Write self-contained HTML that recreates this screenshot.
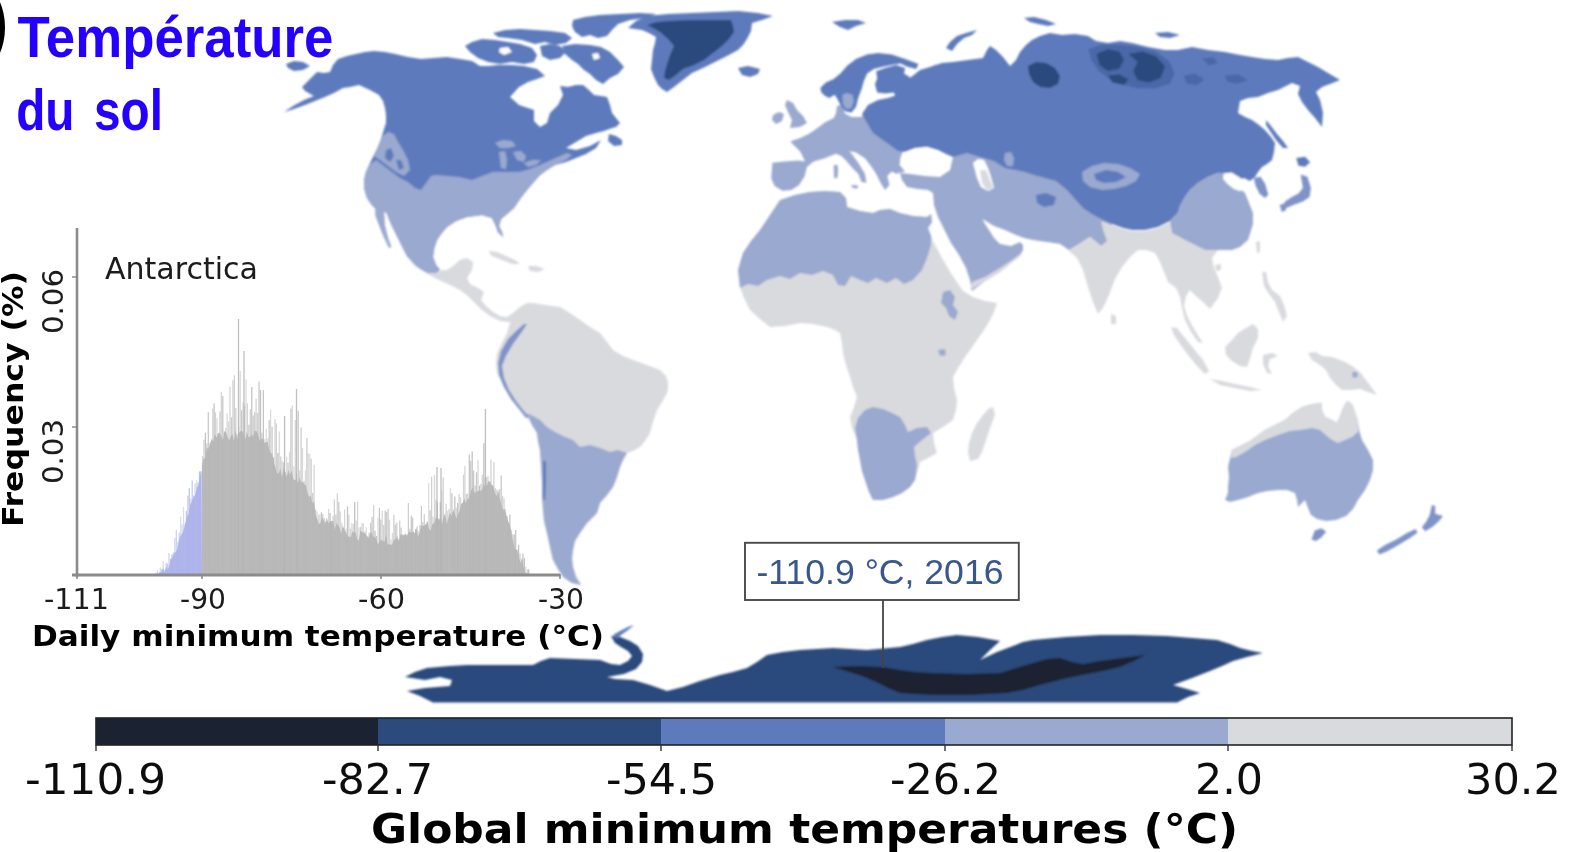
<!DOCTYPE html>
<html lang="fr">
<head>
<meta charset="utf-8">
<title>Température du sol</title>
<style>
html,body{margin:0;padding:0;background:#fff;}
body{width:1569px;height:852px;overflow:hidden;position:relative;font-family:"DejaVu Sans","Liberation Sans",sans-serif;}
svg{position:absolute;left:0;top:0;display:block;}
.dj{font-family:"DejaVu Sans","Liberation Sans",sans-serif;}
.lib{font-family:"Liberation Sans",Arial,sans-serif;}
</style>
</head>
<body>
<svg width="1569" height="852" viewBox="0 0 1569 852">
<defs>
<filter id="blur" x="-2%" y="-2%" width="104%" height="104%"><feGaussianBlur stdDeviation="1.1"/></filter>
<filter id="tblur"><feGaussianBlur stdDeviation="0.6"/></filter>
</defs>
<rect width="1569" height="852" fill="#fff"/>
<!-- world map -->
<g filter="url(#blur)">
<path d="M338,59 L347,56 L356,54 L365,52 L374,51 L385,52 L395,54 L408,57 L421,59 L434,58 L447,57 L460,59 L472,61 L480,66 L489,66 L498,65 L511,65 L524,66 L537,69 L545,76 L537,79 L528,82 L519,87 L510,97 L519,105 L534,110 L534,121 L540,127 L547,123 L550,113 L558,105 L563,95 L560,86 L568,87 L576,85 L583,85 L589,90 L594,95 L601,96 L607,97 L610,105 L612,113 L616,118 L620,123 L616,127 L612,128 L604,131 L596,133 L586,136 L576,142 L566,148 L576,150 L590,146 L601,140 L596,148 L586,154 L576,158 L566,162 L555,165 L547,170 L540,175 L533,183 L527,190 L520,199 L514,208 L507,214 L501,219 L499,226 L502,232 L503,237 L498,232 L495,224 L492,218 L482,215 L467,217 L456,221 L447,227 L441,234 L437,240 L434,249 L433,257 L436,265 L440,270 L430,272 L424.7,271.5 L415.8,265.9 L406.8,255.8 L397.9,238.0 L391.2,224.6 L386.8,213.5 L384,211 L384.5,224.6 L387.9,238.0 L391.2,246.9 L389.0,247.5 L383.4,235.8 L379.0,224.6 L375.6,215.7 L375.6,209.0 L371,204 L367,198 L364,188 L364,180 L366,172 L369,165 L373,157 L377,149 L380,142 L382,136 L384,129 L386,123 L386,115 L385,108 L383,101 L379,95 L370,90 L359,85 L350,87 L343,88 L334,93 L325,97 L315,101 L305,105 L294,109 L284,112 L293,106 L304,100 L314,96 L312,95 L305,91 L302,87 L309,80 L317,72 L324,73 L330,72 L333,65Z" fill="#5d7abc" />
<path d="M286,64 L294,61 L303,62 L310,66 L303,70 L294,71 L288,68Z" fill="#5d7abc" />
<path d="M364,180 L366,172 L369,165 L376,160 L384,166 L392,172 L400,178 L408,182 L415,188 L421,190 L426,183 L431,176 L436,175 L447,176 L459,177 L472,180 L482,176 L493,172 L506,172 L519,172 L530,169 L540,165 L549,161 L558,157 L567,153 L572,155 L566,160 L555,165 L547,170 L540,175 L533,183 L527,190 L520,199 L514,208 L507,214 L501,219 L499,226 L502,232 L503,237 L498,232 L495,224 L492,218 L482,215 L467,217 L456,221 L447,227 L441,234 L437,240 L434,249 L433,257 L436,265 L439,272 L430,275 L424.7,271.5 L415.8,265.9 L406.8,255.8 L397.9,238.0 L391.2,224.6 L386.8,213.5 L384,211 L384.5,224.6 L387.9,238.0 L391.2,246.9 L389.0,247.5 L383.4,235.8 L379.0,224.6 L375.6,215.7 L375.6,209.0 L371,204 L367,198 L364,188Z" fill="#9aa9cf" />
<path d="M383,136 L388,132 L394,134 L398,142 L403,150 L408,160 L410,170 L404,176 L396,172 L388,166 L380,160 L374,156 L378,148Z" fill="#9aa9cf" />
<path d="M386,150 L391,148 L394,156 L390,162 L385,158Z" fill="#5d7abc" />
<path d="M396,160 L401,160 L404,168 L399,170Z" fill="#5d7abc" />
<path d="M495,143 L503,140 L512,141 L516,146 L508,148 L500,148Z" fill="#9aa9cf" />
<path d="M499,152 L505,151 L507,160 L506,169 L501,168 L500,160Z" fill="#9aa9cf" />
<path d="M513,152 L521,151 L526,156 L524,162 L517,160Z" fill="#9aa9cf" />
<path d="M524,163 L532,160 L541,160 L536,165 L528,167Z" fill="#9aa9cf" />
<path d="M412,262 L419,268 L427,273 L437,273 L441,270 L447,270 L453,266 L460,260 L467,258 L473,262 L472,270 L467,278 L470,284 L478,288 L484,292 L481,300 L486,306 L493,312 L500,316 L507,317 L513,313 L517,318 L510,322 L500,321 L490,316 L482,310 L475,303 L468,296 L460,290 L450,285 L441,281 L433,277 L424.7,271.5 L415.8,265.9Z" fill="#d9dade" />
<path d="M488,251 L497,252 L506,256 L515,260 L520,264 L512,264 L502,260 L492,256Z" fill="#d9dade" />
<path d="M528,266 L536,266 L545,269 L538,272 L530,271Z" fill="#d9dade" />
<path d="M465,46 L472,42 L482,39 L495,40 L508,42 L520,44 L532,48 L537,55 L534,62 L524,64 L512,62 L500,64 L488,62 L478,58 L470,52Z" fill="#5d7abc" />
<path d="M493,33 L505,30 L520,29 L535,30 L550,31 L565,33 L572,38 L566,43 L555,45 L545,42 L535,44 L522,40 L508,38 L498,37Z" fill="#5d7abc" />
<path d="M573,20 L585,17 L600,15 L620,14 L640,13 L656,14 L645,18 L630,20 L618,24 L612,30 L607,36 L598,38 L590,35 L582,37 L575,32 L572,26Z" fill="#5d7abc" />
<path d="M540,46 L550,44 L560,46 L566,52 L560,58 L550,60 L542,56Z" fill="#5d7abc" />
<path d="M562,46 L575,44 L590,45 L601,47 L610,52 L618,60 L624,67 L618,74 L610,78 L603,84 L596,80 L590,74 L584,70 L578,64 L572,60 L565,54Z" fill="#5d7abc" />
<path d="M500,48 L508,47 L512,52 L504,55 L499,52Z" fill="#ffffff" />
<path d="M592,54 L598,53 L600,58 L594,60Z" fill="#ffffff" />
<path d="M609,134 L616,136 L622,140 L622,145 L614,146 L608,141Z" fill="#5d7abc" />
<path d="M628,28 L636,21 L647,16 L668,14 L692,13 L715,12 L738,11 L758,13 L773,16 L762,20 L752,23 L751,31 L747,39 L743,45 L738,50 L727,56 L715,62 L703,68 L692,73 L683,80 L674,87 L667,92 L662,89 L658,85 L654,77 L651,69 L652,60 L653,50 L655,43 L656,37 L649,33 L642,30Z" fill="#5d7abc" />
<path d="M647,25 L657,22 L669,21 L690,20 L712,20 L731,20 L733,26 L734,32 L729,39 L722,46 L713,53 L704,60 L694,65 L683,69 L676,75 L669,80 L664,78 L665,71 L667,64 L670,55 L674,46 L668,39 L660,32 L653,28Z" fill="#2c4a7b" />
<path d="M513,313 L520,307 L527,303 L533,303 L545,305 L560,307 L570,313 L580,320 L590,327 L600,333 L607,342 L613,350 L623,356 L633,360 L647,365 L660,370 L666,376 L668,382 L668,388 L667,393 L662,402 L657,410 L653,422 L650,433 L645,441 L640,447 L633,451 L627,453 L623,460 L620,467 L617,477 L613,487 L607,495 L600,503 L597,513 L587,523 L580,533 L575,541 L573,550 L572,558 L573,567 L576,577 L581,585 L572,583 L563,577 L558,569 L553,560 L550,547 L547,533 L544,521 L543,510 L542,496 L542,483 L541,466 L540,450 L538,441 L537,433 L532,425 L527,417 L518,407 L510,397 L503,385 L497,373 L496,363 L497,353 L502,343 L507,333 L510,323Z" fill="#d9dade" />
<path d="M527,413 L533,416 L540,420 L547,427 L555,432 L563,436 L573,440 L580,447 L590,445 L600,448 L610,452 L618,450 L627,453 L623,460 L620,467 L617,477 L613,487 L607,495 L600,503 L597,513 L587,523 L580,533 L575,541 L573,550 L572,558 L573,567 L576,577 L581,585 L572,583 L563,577 L558,569 L553,560 L550,547 L547,533 L544,521 L543,510 L542,496 L542,483 L541,466 L540,450 L538,441 L537,433 L532,425Z" fill="#9aa9cf" />
<path d="M524,324 L527,324 L521,333 L513,344 L506,356 L502,366 L504,378 L509,390 L516,401 L523,410 L529,417 L526,418 L519,409 L511,399 L504,387 L499,375 L498,363 L501,351 L508,339 L516,331Z" fill="#7f93c8" />
<path d="M543,460 L546,462 L546,480 L545,500 L543,500 L543,480Z" fill="#5d7abc" />
<path d="M780,200 L795,195 L810,192 L825,191 L840,192 L846,198 L847,207 L860,211 L873,213 L880,210 L890,209 L900,213 L913,216 L927,217 L931,214 L932,222 L928,228 L934,243 L942,258 L952,275 L963,291 L973,297 L985,301 L997,303 L994,312 L990,320 L984,330 L977,340 L970,350 L963,360 L958,368 L953,377 L954,388 L957,400 L956,410 L953,420 L943,427 L933,433 L934,443 L937,453 L928,458 L920,462 L918,470 L915,480 L910,487 L902,493 L893,497 L883,500 L873,500 L869,492 L866,483 L862,471 L860,460 L858,450 L857,440 L852,428 L850,417 L854,407 L857,397 L853,387 L850,377 L846,365 L843,353 L842,343 L840,333 L833,329 L827,327 L813,324 L800,323 L785,326 L770,327 L760,319 L750,310 L744,298 L740,287 L738,270 L743,253 L751,241 L760,230 L770,215Z" fill="#d9dade" />
<path d="M780,200 L795,195 L810,192 L825,191 L840,192 L846,198 L847,207 L860,211 L873,213 L880,210 L890,209 L900,213 L913,216 L927,217 L931,214 L932,222 L928,228 L931,236 L931,245 L927,258 L922,270 L913,280 L904,284 L896,278 L887,283 L876,278 L868,283 L860,280 L851,276 L845,286 L838,285 L833,275 L823,271 L812,275 L800,273 L790,279 L780,276 L767,280 L758,286 L748,284 L740,288 L738,270 L743,253 L751,241 L760,230 L770,215Z" fill="#9aa9cf" />
<path d="M858,418 L865,410 L873,407 L883,409 L892,413 L900,417 L905,425 L908,432 L917,428 L927,427 L931,433 L922,440 L914,447 L915,456 L917,465 L915,480 L910,487 L902,493 L893,497 L883,500 L873,500 L869,492 L866,483 L862,471 L860,460 L858,450 L857,440 L855,428Z" fill="#9aa9cf" />
<path d="M943,292 L950,290 L955,297 L953,305 L958,312 L955,320 L949,316 L946,308 L941,303Z" fill="#9aa9cf" />
<path d="M938,350 L945,349 L946,355 L940,356Z" fill="#9aa9cf" />
<path d="M993,407 L995,415 L990,428 L986,440 L982,452 L978,459 L970,461 L968,452 L969,443 L972,433 L977,423 L983,415 L988,409Z" fill="#d9dade" />
<path d="M772.3,162.7 L784.6,161.6 L798.0,160.5 L805.1,161.6 L800.2,151.5 L793.5,144.8 L790.2,141.5 L800.2,138.1 L809.2,133.7 L815.8,129.2 L824.8,122.5 L833.7,118.1 L835.9,113.6 L837.0,105.8 L843.7,104.7 L844.8,113.6 L851.5,117.0 L860.5,117.0 L864.9,114.7 L878.3,114.7 L882.8,133.7 L893.9,141.5 L891.7,142.6 L900.6,149.3 L905.1,147.1 L901.1,156.0 L899.5,164.9 L905.1,171.6 L896.1,173.8 L891.7,171.6 L887.2,176.1 L889.5,185.0 L885.0,189.9 L880.5,182.8 L876.1,173.8 L871.6,167.1 L864.9,158.2 L856.0,152.6 L849.3,151.1 L852.0,154.2 L858.2,162.7 L864.9,173.8 L866.5,182.8 L861.6,181.9 L858.2,173.8 L851.5,167.1 L846.0,160.5 L841.5,156.0 L835.9,153.8 L824.8,158.2 L813.6,161.6 L806.9,167.1 L804.7,176.1 L799.1,185.0 L791.3,189.9 L782.4,190.8 L774.6,186.1 L771.2,178.3 L771.9,169.4Z" fill="#9aa9cf" />
<path d="M833.7,164.9 L837.7,164.9 L838.1,171.6 L837.3,178.3 L834.1,177.9Z" fill="#9aa9cf" />
<path d="M851.1,185.0 L858.2,185.4 L857.8,188.6 L852.6,188.1Z" fill="#9aa9cf" />
<path d="M787,100 L793,103 L797,110 L803,116 L807,123 L800,127 L790,128 L792,120 L788,112 L785,105Z" fill="#9aa9cf" />
<path d="M773,115 L779,112 L784,114 L782,121 L776,124 L772,120Z" fill="#9aa9cf" />
<path d="M738,68 L748,66 L760,69 L758,74 L750,77 L742,75Z" fill="#5d7abc" />
<path d="M820.3,88.0 L825.9,82.4 L833.7,79.0 L840.4,73.5 L847.1,65.7 L856,59 L867.1,54.5 L878.3,52.9 L891.7,54.5 L905.1,59.0 L918.5,64.1 L916.2,69.0 L907.3,66.8 L900.6,63.4 L893.9,64.5 L882.8,66.8 L873.8,69.0 L867.1,73.5 L863.8,81.3 L861.6,89.1 L858.2,98.0 L856.0,106.9 L851.5,112.5 L846.0,111.4 L841.5,106.9 L838.1,100.2 L834.8,94.7 L829.2,98.0 L824.8,95.8 L821.4,92.4Z" fill="#5d7abc" />
<path d="M876.1,71.2 L885.0,67.9 L896.1,65.0 L905.1,67.9 L904.0,73.5 L911.8,78.4 L920.7,75.7 L927.4,69.0 L936.3,64.5 L940.8,80.2 L936.3,98.0 L896.1,98.4 L893.9,92.4 L885.0,93.5 L877.2,92.4 L875.0,84.6 L877.2,77.9Z" fill="#5d7abc" />
<path d="M842.2,94.7 L847.1,93.1 L852.6,94.7 L853.8,101.3 L851.5,108.0 L846.6,109.2 L843.1,104.7Z" fill="#9aa9cf" />
<path d="M832,22 L845,20 L858,20 L866,23 L856,26 L848,30 L840,27Z" fill="#5d7abc" />
<path d="M977,30 L966,33 L957,36 L950,42 L946,48 L952,51 L957,44 L964,38 L972,35Z" fill="#5d7abc" />
<path d="M900,173 L910,174 L925,176 L940,177 L950,170 L953,157 L960,150 L1000,150 L1060,160 L1100,190 L1112,215 L1112,244 L1101,246 L1090,237 L1076,246 L1069,250 L1060,244 L1047,242 L1033,240 L1024,238 L1016,235 L1005,230 L994,226 L982.5,219.0 L985,224 L989,230 L994,238 L1000,244 L1011,246 L1020,242 L1023,245 L1023,250 L1020,256 L1012,262 L1000,272 L985,281 L972,291 L970,280 L966,268 L959,255 L951,243 L944,229 L938,217 L934,205 L933,193 L928,190 L918,189 L907,187 L902,180Z" fill="#9aa9cf" />
<path d="M867,123 L862,114 L868,105 L878,100 L888,98 L897,95 L903,86 L910,78 L920,70 L930,67 L942,63 L953,62 L968,60 L983,58 L987,50 L990,46 L996,50 L1003,57 L1010,66 L1016,60 L1020,52 L1026,45 L1032,40 L1040,36 L1050,33 L1062,35 L1075,34 L1088,36 L1096,41 L1108,43 L1120,41 L1132,43 L1148,47 L1165,50 L1178,50 L1192,47 L1208,50 L1225,52 L1240,55 L1252,57 L1265,59 L1278,60 L1288,58 L1298,57 L1308,62 L1318,67 L1328,73 L1340,80 L1330,84 L1322,87 L1316,92 L1320,100 L1323,113 L1322,127 L1315,118 L1308,110 L1302,102 L1298,94 L1300,86 L1292,83 L1284,87 L1278,90 L1268,93 L1258,97 L1248,98 L1240,101 L1238,113 L1245,117 L1252,120 L1259,125 L1265,130 L1271,137 L1275,143 L1274,152 L1272,160 L1267,164 L1262,167 L1258,172 L1255,177 L1250,181 L1244,178 L1238,180 L1232,176 L1225,173 L1218,173 L1208,177 L1198,183 L1190,190 L1185,197 L1180,206 L1178,213 L1170,221 L1158,227 L1145,230 L1132,230 L1123,228 L1112,224 L1101,219 L1092,214 L1083,208 L1075,199 L1067,190 L1056,181 L1045,178 L1034,175 L1025,172 L1016,170 L1005,168 L994,161 L980,157 L967,153 L960,155 L953,157 L946,154 L938,150 L927,147 L915,148 L905,152 L898,151 L890,145 L880,138 L873,133Z" fill="#5d7abc" />
<path d="M1082,172 L1092,166 L1104,163 L1118,164 L1130,168 L1140,174 L1136,181 L1126,186 L1114,189 L1102,190 L1090,187 L1083,181Z" fill="#9aa9cf" />
<path d="M1094,174 L1106,170 L1118,172 L1126,177 L1116,182 L1104,183 L1096,180Z" fill="#5d7abc" />
<path d="M1036,195 L1046,193 L1056,197 L1054,205 L1044,207 L1037,203Z" fill="#5d7abc" />
<path d="M1005,153 L1011,152 L1014,158 L1013,166 L1007,166 L1004,160Z" fill="#9aa9cf" />
<path d="M1028,66 L1036,62 L1046,63 L1055,68 L1060,76 L1058,84 L1050,88 L1040,87 L1033,82 L1029,74Z" fill="#2c4a7b" />
<path d="M1088.3,49.3 L1101.0,44.7 L1119.3,44.7 L1137.7,47.0 L1156.0,51.6 L1169.8,62.0 L1174.4,73.4 L1169.8,83.8 L1156.0,88.3 L1137.7,88.3 L1123.9,84.9 L1110.1,79.2 L1098.7,71.1 L1091.8,60.8Z" fill="#4a68a8" />
<path d="M1096.4,53.9 L1107.8,49.3 L1119.3,51.6 L1123.9,59.7 L1119.3,68.8 L1107.8,71.1 L1099.8,65.4Z" fill="#2c4a7b" />
<path d="M1128.5,53.9 L1142.3,51.6 L1156.0,56.2 L1165.2,66.5 L1160.6,78.0 L1149.2,82.6 L1137.7,80.3 L1133.1,71.1 L1137.7,62.0Z" fill="#2c4a7b" />
<path d="M1107.8,75.7 L1119.3,74.6 L1128.5,79.2 L1123.9,84.9 L1112.4,82.6Z" fill="#2c4a7b" />
<path d="M1183.6,75.7 L1195.0,73.4 L1204.2,79.2 L1197.3,84.9 L1187.0,83.8Z" fill="#4a68a8" />
<path d="M1201.9,58.5 L1213.4,57.4 L1218.0,63.1 L1208.8,65.4Z" fill="#4a68a8" />
<path d="M1224.9,75.7 L1238.6,74.6 L1247.8,80.3 L1236.3,83.8 L1227.2,81.5Z" fill="#4a68a8" />
<path d="M1024,18 L1034,17 L1046,20 L1056,24 L1048,26 L1038,24 L1030,22Z" fill="#5d7abc" />
<path d="M1155,33 L1168,32 L1180,35 L1170,38 L1160,37Z" fill="#5d7abc" />
<path d="M1266,120 L1271,126 L1277,134 L1283,141 L1288,148 L1283,148 L1276,140 L1270,131 L1266,125Z" fill="#5d7abc" />
<path d="M972,282 L985,277 L1000,268 L1012,260 L1020,254 L1023,250 L1020,256 L1012,262 L1000,272 L985,281 L970,290Z" fill="#d9dade" />
<path d="M903,153 L915,149 L927,147 L938,152 L947,160 L950,169 L940,171 L925,170 L913,170 L905,166 L900,160Z" fill="#ffffff" />
<path d="M973,163 L978,159 L984,160 L988,168 L991,177 L994,188 L988,191 L981,187 L977,178 L975,170Z" fill="#ffffff" />
<path d="M980,170 L986,170 L990,180 L993,188 L987,190 L982,183Z" fill="#d9dade" />
<path d="M1056,241 L1069,250 L1076,246 L1090,237 L1101,246 L1107,241 L1103,230 L1101,221 L1112,225 L1123,229 L1132,231 L1145,231 L1158,228 L1170,222 L1172,233 L1185,240 L1205,250 L1218,250 L1212,258 L1214,268 L1218,277 L1222,288 L1218,298 L1210,309 L1204,303 L1197,297 L1190,290 L1186,296 L1184,306 L1187,316 L1193,327 L1199,337 L1203,343 L1198,342 L1191,332 L1185,320 L1182,308 L1180,297 L1176,288 L1168,282 L1164,272 L1160,262 L1155,253 L1147,250 L1138,250 L1130,257 L1122,267 L1115,279 L1109,295 L1103,308 L1098,314 L1093,302 L1088,287 L1083,270 L1077,258 L1068,250Z" fill="#d9dade" />
<path d="M1111,314 L1116,316 L1116,324 L1111,324Z" fill="#d9dade" />
<path d="M1185,197 L1190,190 L1198,183 L1208,177 L1218,173 L1225,173 L1232,180 L1238,187 L1245,193 L1249,203 L1253,213 L1253,224 L1248,240 L1240,247 L1232,250 L1218,250 L1205,250 L1195,245 L1185,240 L1172,233 L1170,221 L1178,213 L1180,206Z" fill="#9aa9cf" />
<path d="M1223.7,173.5 L1231.5,172.4 L1240.5,178.0 L1244.9,185.8 L1240.5,191.3 L1233.8,189.1 L1227.1,183.5 L1223.1,179.1Z" fill="#ffffff" />
<path d="M1253.8,178.0 L1260.5,176.8 L1265.0,183.5 L1268.3,194.7 L1265,198 L1259.4,193.6 L1255.6,185.8Z" fill="#7f93c8" />
<path d="M1300.7,174.6 L1307.4,176.8 L1310.9,188.0 L1309.6,196.9 L1302.9,201.4 L1294.0,204.7 L1286.2,208.1 L1282.8,205.8 L1285.1,201.4 L1291.8,196.9 L1298.5,193.6 L1302.9,188.0 L1301.8,181.3Z" fill="#7f93c8" />
<path d="M1296.2,157.9 L1305.1,156.8 L1310.1,162.3 L1305.1,166.8 L1298.5,165.7Z" fill="#5d7abc" />
<path d="M1279.7,204.7 L1285.1,203.6 L1286.2,210.3 L1281.7,212.1Z" fill="#7f93c8" />
<path d="M1215,265 L1221,264 L1221,270 L1216,271Z" fill="#d9dade" />
<path d="M1256,242 L1260,241 L1260,252 L1257,253Z" fill="#d9dade" />
<path d="M1262,272 L1266,272 L1268,282 L1272,290 L1280,296 L1284,305 L1287,316 L1283,322 L1279,312 L1275,302 L1269,294 L1264,286Z" fill="#d9dade" />
<path d="M1171,327 L1177,328 L1185,338 L1194,349 L1203,360 L1209,371 L1205,374 L1197,366 L1188,355 L1180,344 L1174,335Z" fill="#d9dade" />
<path d="M1225,347 L1232,340 L1238,333 L1246,328 L1253,324 L1258,329 L1258,338 L1253,348 L1250,358 L1247,367 L1240,366 L1232,361 L1226,355Z" fill="#d9dade" />
<path d="M1210,379 L1222,381 L1235,384 L1250,387 L1262,390 L1250,391 L1235,388 L1220,385Z" fill="#d9dade" />
<path d="M1263,355 L1272,353 L1278,356 L1270,359 L1268,366 L1272,374 L1267,373 L1263,364Z" fill="#d9dade" />
<path d="M1308,353 L1316,352 L1322,356 L1332,357 L1343,361 L1352,366 L1360,372 L1366,380 L1372,388 L1377,395 L1368,392 L1360,389 L1350,390 L1342,390 L1336,385 L1330,378 L1326,370 L1320,365 L1312,360Z" fill="#d9dade" />
<path d="M1352,372 L1357,372 L1358,377 L1353,378Z" fill="#9aa9cf" />
<path d="M1232,450 L1240,446 L1250,441 L1265,430 L1275,425 L1285,420 L1293,413 L1302,407 L1312,404 L1322,403 L1322,410 L1325,417 L1332,420 L1337,423 L1340,416 L1343,408 L1347,401 L1352,404 L1355,412 L1358,421 L1359,430 L1362,440 L1368,450 L1373,460 L1373,470 L1370,480 L1365,490 L1358,500 L1353,509 L1346,516 L1336,520 L1326,521 L1317,519 L1311,515 L1308,508 L1305,500 L1300,505 L1298,507 L1297,500 L1295,493 L1287,490 L1278,490 L1268,491 L1258,493 L1248,497 L1238,500 L1230,502 L1225,500 L1228,493 L1228,487 L1229,477 L1228,467Z" fill="#9aa9cf" />
<path d="M1232,450 L1240,446 L1250,441 L1265,430 L1275,425 L1285,420 L1293,413 L1302,407 L1312,404 L1322,403 L1322,410 L1325,417 L1332,420 L1337,423 L1340,416 L1343,408 L1347,401 L1352,404 L1355,412 L1358,421 L1358,432 L1352,437 L1345,440 L1338,443 L1332,440 L1328,437 L1320,430 L1312,428 L1300,430 L1290,431 L1278,435 L1265,440 L1255,445 L1245,452 L1236,457 L1231,458Z" fill="#d9dade" />
<path d="M1311.5,539.4 L1314.8,530.5 L1321.5,528.3 L1326.2,531.6 L1321.5,537.2 L1315.9,541.0Z" fill="#7f93c8" />
<path d="M1376.8,550.6 L1385.1,545.0 L1396.2,539.4 L1407.4,532.7 L1415.8,528.9 L1417.4,532.7 L1409.6,538.3 L1398.4,545.0 L1387.3,551.2 L1379.5,554.4Z" fill="#7f93c8" />
<path d="M1421.9,527.2 L1426.3,521.6 L1429.7,514.9 L1431.9,504.9 L1435.2,506.0 L1435.2,513.8 L1443,516 L1438.6,521.6 L1431.9,527.2 L1425.2,531.2Z" fill="#7f93c8" />
<path d="M405,677 L415,672 L427,668 L450,666 L467,665 L500,665 L533,665 L541,661 L550,658 L575,659 L600,660 L611,664 L620,665 L628,661 L632,656 L628,651 L621,647 L615,643 L611,636 L620,637 L630,641 L638,646 L643,654 L642,662 L636,669 L624,674 L607,677 L615,679 L633,680 L650,685 L667,691 L683,687 L700,681 L710,678 L720,675 L733,672 L747,668 L757,662 L767,655 L783,652 L800,650 L833,648 L867,650 L900,647 L913,644 L927,640 L942,637 L957,635 L978,637 L1000,641 L990,650 L980,660 L997,652 L1013,646 L1023,642 L1033,640 L1066,637 L1100,635 L1133,635 L1167,636 L1192,638 L1217,640 L1230,644 L1240,648 L1252,651 L1263,653 L1247,657 L1233,661 L1222,666 L1210,671 L1192,678 L1173,685 L1187,689 L1200,693 L1188,697 L1177.0,702.5 L1100.0,702.5 L900.0,702.5 L700.0,702.5 L500.0,702.5 L433.0,702.5 L420,696 L407,691 L425,688 L450,686 L452,680 L440,677 L425,680Z" fill="#2c4a7b" />
<path d="M613,635 L620,631 L628,627 L634,625 L628,630 L621,635 L617,639Z" fill="#5d7abc" />
<path d="M833,667 L858,666 L883,667 L900,670 L916,672 L933,673 L966,674 L1000,673 L1016,668 L1033,663 L1047,659 L1060,658 L1072,662 L1083,664 L1100,661 L1122,658 L1145,655 L1134,661 L1120,667 L1103,671 L1087,674 L1063,679 L1040,685 L1023,690 L1007,693 L970,695 L933,695 L915,694 L900,693 L888,688 L876,682 L862,676 L846,671Z" fill="#1b2232" />
</g>
<!-- inset histogram -->
<g filter="url(#tblur)">
<path d="M202,575 L202.0,464.9 L203.6,458.0 L205.2,459.2 L206.8,447.5 L208.4,448.9 L210.0,444.5 L211.6,438.6 L213.2,441.7 L214.8,433.7 L216.4,437.8 L218.0,432.9 L219.6,432.7 L221.2,436.2 L222.8,440.5 L224.4,431.6 L226.0,432.3 L227.6,436.7 L229.2,440.4 L230.8,436.0 L232.4,433.9 L234.0,440.9 L235.6,429.8 L237.2,439.6 L238.8,432.9 L240.4,431.2 L242.0,430.9 L243.6,433.3 L245.2,439.4 L246.8,431.8 L248.4,436.7 L250.0,437.5 L251.6,434.3 L253.2,436.5 L254.8,430.7 L256.4,431.0 L258.0,433.9 L259.6,440.7 L261.2,438.7 L262.8,438.5 L264.4,442.8 L266.0,442.4 L267.6,441.6 L269.2,449.2 L270.8,453.6 L272.4,453.6 L274.0,463.0 L275.6,467.9 L277.2,474.0 L278.8,473.0 L280.4,468.3 L282.0,477.3 L283.6,467.7 L285.2,472.0 L286.8,476.7 L288.4,470.1 L290.0,474.9 L291.6,470.2 L293.2,478.5 L294.8,480.4 L296.4,478.8 L298.0,483.2 L299.6,477.2 L301.2,482.5 L302.8,482.0 L304.4,484.4 L306.0,485.6 L307.6,493.0 L309.2,497.0 L310.8,495.4 L312.4,503.2 L314.0,501.4 L315.6,514.6 L317.2,518.9 L318.8,524.0 L320.4,523.0 L322.0,517.5 L323.6,519.7 L325.2,524.1 L326.8,517.3 L328.4,523.6 L330.0,521.0 L331.6,521.0 L333.2,521.0 L334.8,530.1 L336.4,523.1 L338.0,525.2 L339.6,527.5 L341.2,533.9 L342.8,525.1 L344.4,530.2 L346.0,532.0 L347.6,536.6 L349.2,536.5 L350.8,537.5 L352.4,530.9 L354.0,532.8 L355.6,532.5 L357.2,539.2 L358.8,540.4 L360.4,531.0 L362.0,531.7 L363.6,532.7 L365.2,533.1 L366.8,536.4 L368.4,538.0 L370.0,534.4 L371.6,531.7 L373.2,537.0 L374.8,536.7 L376.4,539.5 L378.0,544.4 L379.6,541.5 L381.2,539.6 L382.8,541.0 L384.4,541.9 L386.0,534.6 L387.6,544.9 L389.2,543.7 L390.8,545.0 L392.4,544.3 L394.0,539.6 L395.6,539.6 L397.2,535.7 L398.8,541.7 L400.4,534.5 L402.0,534.2 L403.6,535.5 L405.2,534.5 L406.8,536.3 L408.4,532.5 L410.0,531.5 L411.6,532.9 L413.2,531.3 L414.8,533.2 L416.4,527.9 L418.0,536.9 L419.6,532.5 L421.2,525.7 L422.8,525.7 L424.4,525.6 L426.0,525.0 L427.6,521.5 L429.2,529.6 L430.8,530.7 L432.4,523.8 L434.0,523.4 L435.6,518.0 L437.2,517.6 L438.8,519.9 L440.4,518.3 L442.0,524.5 L443.6,515.9 L445.2,513.6 L446.8,523.9 L448.4,517.9 L450.0,512.4 L451.6,516.2 L453.2,509.0 L454.8,514.1 L456.4,518.2 L458.0,514.8 L459.6,510.8 L461.2,503.5 L462.8,502.7 L464.4,498.3 L466.0,503.5 L467.6,498.5 L469.2,499.0 L470.8,491.3 L472.4,487.6 L474.0,492.2 L475.6,492.8 L477.2,491.2 L478.8,490.7 L480.4,490.8 L482.0,489.9 L483.6,483.7 L485.2,487.2 L486.8,485.3 L488.4,481.3 L490.0,481.3 L491.6,485.3 L493.2,486.0 L494.8,492.2 L496.4,496.3 L498.0,491.2 L499.6,498.0 L501.2,503.7 L502.8,509.7 L504.4,509.0 L506.0,513.6 L507.6,519.4 L509.2,523.6 L510.8,528.3 L512.4,537.9 L514.0,545.8 L515.6,549.7 L517.2,549.9 L518.8,556.6 L520.4,562.9 L522.0,557.6 L523.6,567.0 L525.2,572.5 L526.8,573.4 L528.4,575.5 L530,575Z" fill="#bebebe" />
<g><path d="M202.5,575V456.2" stroke="#b4b4b4" stroke-opacity="0.52" stroke-width="1.25"/><path d="M203.9,575V439.7" stroke="#b4b4b4" stroke-opacity="0.58" stroke-width="1.25"/><path d="M205.4,575V432.8" stroke="#b4b4b4" stroke-opacity="0.84" stroke-width="1.25"/><path d="M206.8,575V443.3" stroke="#b4b4b4" stroke-opacity="0.61" stroke-width="1.25"/><path d="M208.3,575V412.3" stroke="#b4b4b4" stroke-opacity="0.74" stroke-width="1.25"/><path d="M209.7,575V443.1" stroke="#b4b4b4" stroke-opacity="0.50" stroke-width="1.25"/><path d="M211.2,575V441.3" stroke="#b4b4b4" stroke-opacity="0.81" stroke-width="1.25"/><path d="M212.6,575V408.8" stroke="#b4b4b4" stroke-opacity="0.51" stroke-width="1.25"/><path d="M214.1,575V403.6" stroke="#b4b4b4" stroke-opacity="0.84" stroke-width="1.25"/><path d="M215.5,575V412.3" stroke="#b4b4b4" stroke-opacity="0.59" stroke-width="1.25"/><path d="M217.0,575V418.3" stroke="#b4b4b4" stroke-opacity="0.50" stroke-width="1.25"/><path d="M218.4,575V436.9" stroke="#b4b4b4" stroke-opacity="0.84" stroke-width="1.25"/><path d="M219.9,575V411.6" stroke="#b4b4b4" stroke-opacity="0.66" stroke-width="1.25"/><path d="M221.3,575V391.7" stroke="#b4b4b4" stroke-opacity="0.62" stroke-width="1.25"/><path d="M222.8,575V395.9" stroke="#b4b4b4" stroke-opacity="0.78" stroke-width="1.25"/><path d="M224.2,575V431.1" stroke="#b4b4b4" stroke-opacity="0.55" stroke-width="1.25"/><path d="M225.7,575V427.8" stroke="#b4b4b4" stroke-opacity="0.55" stroke-width="1.25"/><path d="M227.1,575V413.4" stroke="#b4b4b4" stroke-opacity="0.55" stroke-width="1.25"/><path d="M228.6,575V421.4" stroke="#b4b4b4" stroke-opacity="0.50" stroke-width="1.25"/><path d="M230.0,575V386.8" stroke="#b4b4b4" stroke-opacity="0.59" stroke-width="1.25"/><path d="M231.5,575V417.1" stroke="#b4b4b4" stroke-opacity="0.68" stroke-width="1.25"/><path d="M232.9,575V380.2" stroke="#b4b4b4" stroke-opacity="0.62" stroke-width="1.25"/><path d="M234.4,575V375.3" stroke="#b4b4b4" stroke-opacity="0.65" stroke-width="1.25"/><path d="M235.8,575V408.1" stroke="#b4b4b4" stroke-opacity="0.66" stroke-width="1.25"/><path d="M237.3,575V434.2" stroke="#b4b4b4" stroke-opacity="0.63" stroke-width="1.25"/><path d="M238.7,575V427.1" stroke="#b4b4b4" stroke-opacity="0.45" stroke-width="1.25"/><path d="M240.2,575V371.1" stroke="#b4b4b4" stroke-opacity="0.52" stroke-width="1.25"/><path d="M241.6,575V410.2" stroke="#b4b4b4" stroke-opacity="0.74" stroke-width="1.25"/><path d="M243.1,575V402.3" stroke="#b4b4b4" stroke-opacity="0.58" stroke-width="1.25"/><path d="M244.5,575V405.6" stroke="#b4b4b4" stroke-opacity="0.67" stroke-width="1.25"/><path d="M246.0,575V379.6" stroke="#b4b4b4" stroke-opacity="0.49" stroke-width="1.25"/><path d="M247.4,575V403.3" stroke="#b4b4b4" stroke-opacity="0.55" stroke-width="1.25"/><path d="M248.9,575V424.8" stroke="#b4b4b4" stroke-opacity="0.76" stroke-width="1.25"/><path d="M250.3,575V409.2" stroke="#b4b4b4" stroke-opacity="0.67" stroke-width="1.25"/><path d="M251.8,575V387.1" stroke="#b4b4b4" stroke-opacity="0.81" stroke-width="1.25"/><path d="M253.2,575V415.5" stroke="#b4b4b4" stroke-opacity="0.70" stroke-width="1.25"/><path d="M254.7,575V412.0" stroke="#b4b4b4" stroke-opacity="0.65" stroke-width="1.25"/><path d="M256.1,575V398.8" stroke="#b4b4b4" stroke-opacity="0.63" stroke-width="1.25"/><path d="M257.6,575V412.9" stroke="#b4b4b4" stroke-opacity="0.64" stroke-width="1.25"/><path d="M259.0,575V381.4" stroke="#b4b4b4" stroke-opacity="0.73" stroke-width="1.25"/><path d="M260.5,575V390.1" stroke="#b4b4b4" stroke-opacity="0.83" stroke-width="1.25"/><path d="M261.9,575V432.5" stroke="#b4b4b4" stroke-opacity="0.67" stroke-width="1.25"/><path d="M263.4,575V390.1" stroke="#b4b4b4" stroke-opacity="0.79" stroke-width="1.25"/><path d="M264.8,575V438.9" stroke="#b4b4b4" stroke-opacity="0.50" stroke-width="1.25"/><path d="M266.3,575V428.5" stroke="#b4b4b4" stroke-opacity="0.48" stroke-width="1.25"/><path d="M267.7,575V438.2" stroke="#b4b4b4" stroke-opacity="0.48" stroke-width="1.25"/><path d="M269.2,575V420.2" stroke="#b4b4b4" stroke-opacity="0.76" stroke-width="1.25"/><path d="M270.6,575V409.7" stroke="#b4b4b4" stroke-opacity="0.51" stroke-width="1.25"/><path d="M272.1,575V426.7" stroke="#b4b4b4" stroke-opacity="0.71" stroke-width="1.25"/><path d="M273.5,575V457.5" stroke="#b4b4b4" stroke-opacity="0.80" stroke-width="1.25"/><path d="M275.0,575V419.1" stroke="#b4b4b4" stroke-opacity="0.54" stroke-width="1.25"/><path d="M276.4,575V423.4" stroke="#b4b4b4" stroke-opacity="0.61" stroke-width="1.25"/><path d="M277.9,575V453.1" stroke="#b4b4b4" stroke-opacity="0.85" stroke-width="1.25"/><path d="M279.3,575V431.4" stroke="#b4b4b4" stroke-opacity="0.51" stroke-width="1.25"/><path d="M280.8,575V456.4" stroke="#b4b4b4" stroke-opacity="0.66" stroke-width="1.25"/><path d="M282.2,575V461.2" stroke="#b4b4b4" stroke-opacity="0.53" stroke-width="1.25"/><path d="M283.7,575V462.5" stroke="#b4b4b4" stroke-opacity="0.74" stroke-width="1.25"/><path d="M285.1,575V471.8" stroke="#b4b4b4" stroke-opacity="0.67" stroke-width="1.25"/><path d="M286.6,575V456.7" stroke="#b4b4b4" stroke-opacity="0.46" stroke-width="1.25"/><path d="M288.0,575V462.7" stroke="#b4b4b4" stroke-opacity="0.70" stroke-width="1.25"/><path d="M289.5,575V452.1" stroke="#b4b4b4" stroke-opacity="0.48" stroke-width="1.25"/><path d="M290.9,575V408.4" stroke="#b4b4b4" stroke-opacity="0.77" stroke-width="1.25"/><path d="M292.4,575V405.2" stroke="#b4b4b4" stroke-opacity="0.49" stroke-width="1.25"/><path d="M293.8,575V466.3" stroke="#b4b4b4" stroke-opacity="0.47" stroke-width="1.25"/><path d="M295.3,575V419.9" stroke="#b4b4b4" stroke-opacity="0.56" stroke-width="1.25"/><path d="M296.7,575V473.8" stroke="#b4b4b4" stroke-opacity="0.62" stroke-width="1.25"/><path d="M298.2,575V410.8" stroke="#b4b4b4" stroke-opacity="0.78" stroke-width="1.25"/><path d="M299.6,575V470.6" stroke="#b4b4b4" stroke-opacity="0.51" stroke-width="1.25"/><path d="M301.1,575V427.6" stroke="#b4b4b4" stroke-opacity="0.68" stroke-width="1.25"/><path d="M302.5,575V447.9" stroke="#b4b4b4" stroke-opacity="0.49" stroke-width="1.25"/><path d="M304.0,575V481.1" stroke="#b4b4b4" stroke-opacity="0.73" stroke-width="1.25"/><path d="M305.4,575V470.3" stroke="#b4b4b4" stroke-opacity="0.48" stroke-width="1.25"/><path d="M306.9,575V438.0" stroke="#b4b4b4" stroke-opacity="0.70" stroke-width="1.25"/><path d="M308.3,575V453.2" stroke="#b4b4b4" stroke-opacity="0.48" stroke-width="1.25"/><path d="M309.8,575V454.0" stroke="#b4b4b4" stroke-opacity="0.48" stroke-width="1.25"/><path d="M311.2,575V458.7" stroke="#b4b4b4" stroke-opacity="0.63" stroke-width="1.25"/><path d="M312.7,575V492.9" stroke="#b4b4b4" stroke-opacity="0.67" stroke-width="1.25"/><path d="M314.1,575V464.8" stroke="#b4b4b4" stroke-opacity="0.56" stroke-width="1.25"/><path d="M315.6,575V509.4" stroke="#b4b4b4" stroke-opacity="0.66" stroke-width="1.25"/><path d="M317.0,575V511.4" stroke="#b4b4b4" stroke-opacity="0.49" stroke-width="1.25"/><path d="M318.5,575V514.5" stroke="#b4b4b4" stroke-opacity="0.47" stroke-width="1.25"/><path d="M319.9,575V514.4" stroke="#b4b4b4" stroke-opacity="0.57" stroke-width="1.25"/><path d="M321.4,575V512.3" stroke="#b4b4b4" stroke-opacity="0.75" stroke-width="1.25"/><path d="M322.8,575V513.9" stroke="#b4b4b4" stroke-opacity="0.65" stroke-width="1.25"/><path d="M324.3,575V517.9" stroke="#b4b4b4" stroke-opacity="0.59" stroke-width="1.25"/><path d="M325.7,575V521.3" stroke="#b4b4b4" stroke-opacity="0.55" stroke-width="1.25"/><path d="M327.2,575V522.2" stroke="#b4b4b4" stroke-opacity="0.74" stroke-width="1.25"/><path d="M328.6,575V508.9" stroke="#b4b4b4" stroke-opacity="0.53" stroke-width="1.25"/><path d="M330.1,575V513.1" stroke="#b4b4b4" stroke-opacity="0.82" stroke-width="1.25"/><path d="M331.5,575V523.6" stroke="#b4b4b4" stroke-opacity="0.78" stroke-width="1.25"/><path d="M333.0,575V516.0" stroke="#b4b4b4" stroke-opacity="0.65" stroke-width="1.25"/><path d="M334.4,575V499.5" stroke="#b4b4b4" stroke-opacity="0.61" stroke-width="1.25"/><path d="M335.9,575V514.6" stroke="#b4b4b4" stroke-opacity="0.73" stroke-width="1.25"/><path d="M337.3,575V493.4" stroke="#b4b4b4" stroke-opacity="0.59" stroke-width="1.25"/><path d="M338.8,575V502.0" stroke="#b4b4b4" stroke-opacity="0.73" stroke-width="1.25"/><path d="M340.2,575V511.6" stroke="#b4b4b4" stroke-opacity="0.61" stroke-width="1.25"/><path d="M341.7,575V522.5" stroke="#b4b4b4" stroke-opacity="0.47" stroke-width="1.25"/><path d="M343.1,575V528.0" stroke="#b4b4b4" stroke-opacity="0.48" stroke-width="1.25"/><path d="M344.6,575V509.4" stroke="#b4b4b4" stroke-opacity="0.55" stroke-width="1.25"/><path d="M346.0,575V528.6" stroke="#b4b4b4" stroke-opacity="0.48" stroke-width="1.25"/><path d="M347.5,575V506.4" stroke="#b4b4b4" stroke-opacity="0.80" stroke-width="1.25"/><path d="M348.9,575V514.6" stroke="#b4b4b4" stroke-opacity="0.56" stroke-width="1.25"/><path d="M350.4,575V528.8" stroke="#b4b4b4" stroke-opacity="0.57" stroke-width="1.25"/><path d="M351.8,575V523.1" stroke="#b4b4b4" stroke-opacity="0.51" stroke-width="1.25"/><path d="M353.3,575V523.7" stroke="#b4b4b4" stroke-opacity="0.56" stroke-width="1.25"/><path d="M354.7,575V502.0" stroke="#b4b4b4" stroke-opacity="0.84" stroke-width="1.25"/><path d="M356.2,575V520.6" stroke="#b4b4b4" stroke-opacity="0.55" stroke-width="1.25"/><path d="M357.6,575V501.8" stroke="#b4b4b4" stroke-opacity="0.57" stroke-width="1.25"/><path d="M359.1,575V527.4" stroke="#b4b4b4" stroke-opacity="0.45" stroke-width="1.25"/><path d="M360.5,575V526.9" stroke="#b4b4b4" stroke-opacity="0.64" stroke-width="1.25"/><path d="M362.0,575V523.1" stroke="#b4b4b4" stroke-opacity="0.53" stroke-width="1.25"/><path d="M363.4,575V523.2" stroke="#b4b4b4" stroke-opacity="0.45" stroke-width="1.25"/><path d="M364.9,575V531.0" stroke="#b4b4b4" stroke-opacity="0.49" stroke-width="1.25"/><path d="M366.3,575V527.3" stroke="#b4b4b4" stroke-opacity="0.47" stroke-width="1.25"/><path d="M367.8,575V535.7" stroke="#b4b4b4" stroke-opacity="0.57" stroke-width="1.25"/><path d="M369.2,575V532.5" stroke="#b4b4b4" stroke-opacity="0.68" stroke-width="1.25"/><path d="M370.7,575V522.8" stroke="#b4b4b4" stroke-opacity="0.75" stroke-width="1.25"/><path d="M372.1,575V517.1" stroke="#b4b4b4" stroke-opacity="0.74" stroke-width="1.25"/><path d="M373.6,575V505.3" stroke="#b4b4b4" stroke-opacity="0.61" stroke-width="1.25"/><path d="M375.0,575V530.8" stroke="#b4b4b4" stroke-opacity="0.84" stroke-width="1.25"/><path d="M376.5,575V535.8" stroke="#b4b4b4" stroke-opacity="0.74" stroke-width="1.25"/><path d="M377.9,575V517.8" stroke="#b4b4b4" stroke-opacity="0.47" stroke-width="1.25"/><path d="M379.4,575V507.9" stroke="#b4b4b4" stroke-opacity="0.81" stroke-width="1.25"/><path d="M380.8,575V519.5" stroke="#b4b4b4" stroke-opacity="0.74" stroke-width="1.25"/><path d="M382.3,575V510.6" stroke="#b4b4b4" stroke-opacity="0.51" stroke-width="1.25"/><path d="M383.7,575V525.1" stroke="#b4b4b4" stroke-opacity="0.65" stroke-width="1.25"/><path d="M385.2,575V510.7" stroke="#b4b4b4" stroke-opacity="0.77" stroke-width="1.25"/><path d="M386.6,575V511.8" stroke="#b4b4b4" stroke-opacity="0.68" stroke-width="1.25"/><path d="M388.1,575V509.0" stroke="#b4b4b4" stroke-opacity="0.72" stroke-width="1.25"/><path d="M389.5,575V519.6" stroke="#b4b4b4" stroke-opacity="0.54" stroke-width="1.25"/><path d="M391.0,575V539.4" stroke="#b4b4b4" stroke-opacity="0.50" stroke-width="1.25"/><path d="M392.4,575V533.0" stroke="#b4b4b4" stroke-opacity="0.49" stroke-width="1.25"/><path d="M393.9,575V514.7" stroke="#b4b4b4" stroke-opacity="0.67" stroke-width="1.25"/><path d="M395.3,575V524.4" stroke="#b4b4b4" stroke-opacity="0.70" stroke-width="1.25"/><path d="M396.8,575V522.6" stroke="#b4b4b4" stroke-opacity="0.65" stroke-width="1.25"/><path d="M398.2,575V539.2" stroke="#b4b4b4" stroke-opacity="0.77" stroke-width="1.25"/><path d="M399.7,575V520.6" stroke="#b4b4b4" stroke-opacity="0.65" stroke-width="1.25"/><path d="M401.1,575V527.6" stroke="#b4b4b4" stroke-opacity="0.71" stroke-width="1.25"/><path d="M402.6,575V537.8" stroke="#b4b4b4" stroke-opacity="0.74" stroke-width="1.25"/><path d="M404.0,575V534.3" stroke="#b4b4b4" stroke-opacity="0.48" stroke-width="1.25"/><path d="M405.5,575V533.6" stroke="#b4b4b4" stroke-opacity="0.74" stroke-width="1.25"/><path d="M406.9,575V534.5" stroke="#b4b4b4" stroke-opacity="0.75" stroke-width="1.25"/><path d="M408.4,575V503.0" stroke="#b4b4b4" stroke-opacity="0.65" stroke-width="1.25"/><path d="M409.8,575V528.7" stroke="#b4b4b4" stroke-opacity="0.64" stroke-width="1.25"/><path d="M411.3,575V515.8" stroke="#b4b4b4" stroke-opacity="0.76" stroke-width="1.25"/><path d="M412.7,575V517.8" stroke="#b4b4b4" stroke-opacity="0.71" stroke-width="1.25"/><path d="M414.2,575V533.7" stroke="#b4b4b4" stroke-opacity="0.51" stroke-width="1.25"/><path d="M415.6,575V528.9" stroke="#b4b4b4" stroke-opacity="0.75" stroke-width="1.25"/><path d="M417.1,575V526.2" stroke="#b4b4b4" stroke-opacity="0.68" stroke-width="1.25"/><path d="M418.5,575V530.9" stroke="#b4b4b4" stroke-opacity="0.47" stroke-width="1.25"/><path d="M420.0,575V525.0" stroke="#b4b4b4" stroke-opacity="0.72" stroke-width="1.25"/><path d="M421.4,575V506.1" stroke="#b4b4b4" stroke-opacity="0.72" stroke-width="1.25"/><path d="M422.9,575V521.9" stroke="#b4b4b4" stroke-opacity="0.66" stroke-width="1.25"/><path d="M424.3,575V514.1" stroke="#b4b4b4" stroke-opacity="0.64" stroke-width="1.25"/><path d="M425.8,575V524.3" stroke="#b4b4b4" stroke-opacity="0.81" stroke-width="1.25"/><path d="M427.2,575V521.7" stroke="#b4b4b4" stroke-opacity="0.84" stroke-width="1.25"/><path d="M428.7,575V482.9" stroke="#b4b4b4" stroke-opacity="0.46" stroke-width="1.25"/><path d="M430.1,575V510.3" stroke="#b4b4b4" stroke-opacity="0.78" stroke-width="1.25"/><path d="M431.6,575V476.8" stroke="#b4b4b4" stroke-opacity="0.63" stroke-width="1.25"/><path d="M433.0,575V516.8" stroke="#b4b4b4" stroke-opacity="0.53" stroke-width="1.25"/><path d="M434.5,575V474.8" stroke="#b4b4b4" stroke-opacity="0.53" stroke-width="1.25"/><path d="M435.9,575V499.4" stroke="#b4b4b4" stroke-opacity="0.51" stroke-width="1.25"/><path d="M437.4,575V502.0" stroke="#b4b4b4" stroke-opacity="0.83" stroke-width="1.25"/><path d="M438.8,575V518.6" stroke="#b4b4b4" stroke-opacity="0.78" stroke-width="1.25"/><path d="M440.3,575V502.1" stroke="#b4b4b4" stroke-opacity="0.80" stroke-width="1.25"/><path d="M441.7,575V490.2" stroke="#b4b4b4" stroke-opacity="0.54" stroke-width="1.25"/><path d="M443.2,575V477.6" stroke="#b4b4b4" stroke-opacity="0.64" stroke-width="1.25"/><path d="M444.6,575V518.4" stroke="#b4b4b4" stroke-opacity="0.45" stroke-width="1.25"/><path d="M446.1,575V503.7" stroke="#b4b4b4" stroke-opacity="0.63" stroke-width="1.25"/><path d="M447.5,575V510.9" stroke="#b4b4b4" stroke-opacity="0.51" stroke-width="1.25"/><path d="M449.0,575V509.1" stroke="#b4b4b4" stroke-opacity="0.58" stroke-width="1.25"/><path d="M450.4,575V487.9" stroke="#b4b4b4" stroke-opacity="0.45" stroke-width="1.25"/><path d="M451.9,575V493.3" stroke="#b4b4b4" stroke-opacity="0.79" stroke-width="1.25"/><path d="M453.3,575V512.6" stroke="#b4b4b4" stroke-opacity="0.82" stroke-width="1.25"/><path d="M454.8,575V496.4" stroke="#b4b4b4" stroke-opacity="0.81" stroke-width="1.25"/><path d="M456.2,575V507.6" stroke="#b4b4b4" stroke-opacity="0.60" stroke-width="1.25"/><path d="M457.7,575V502.9" stroke="#b4b4b4" stroke-opacity="0.85" stroke-width="1.25"/><path d="M459.1,575V494.0" stroke="#b4b4b4" stroke-opacity="0.59" stroke-width="1.25"/><path d="M460.6,575V497.3" stroke="#b4b4b4" stroke-opacity="0.56" stroke-width="1.25"/><path d="M462.0,575V504.0" stroke="#b4b4b4" stroke-opacity="0.49" stroke-width="1.25"/><path d="M463.5,575V474.5" stroke="#b4b4b4" stroke-opacity="0.56" stroke-width="1.25"/><path d="M464.9,575V465.7" stroke="#b4b4b4" stroke-opacity="0.55" stroke-width="1.25"/><path d="M466.4,575V493.9" stroke="#b4b4b4" stroke-opacity="0.65" stroke-width="1.25"/><path d="M467.8,575V493.8" stroke="#b4b4b4" stroke-opacity="0.60" stroke-width="1.25"/><path d="M469.3,575V454.6" stroke="#b4b4b4" stroke-opacity="0.80" stroke-width="1.25"/><path d="M470.7,575V460.9" stroke="#b4b4b4" stroke-opacity="0.70" stroke-width="1.25"/><path d="M472.2,575V451.6" stroke="#b4b4b4" stroke-opacity="0.83" stroke-width="1.25"/><path d="M473.6,575V470.6" stroke="#b4b4b4" stroke-opacity="0.74" stroke-width="1.25"/><path d="M475.1,575V485.6" stroke="#b4b4b4" stroke-opacity="0.74" stroke-width="1.25"/><path d="M476.5,575V472.3" stroke="#b4b4b4" stroke-opacity="0.75" stroke-width="1.25"/><path d="M478.0,575V460.2" stroke="#b4b4b4" stroke-opacity="0.56" stroke-width="1.25"/><path d="M479.4,575V485.6" stroke="#b4b4b4" stroke-opacity="0.82" stroke-width="1.25"/><path d="M480.9,575V483.8" stroke="#b4b4b4" stroke-opacity="0.64" stroke-width="1.25"/><path d="M482.3,575V474.7" stroke="#b4b4b4" stroke-opacity="0.57" stroke-width="1.25"/><path d="M483.8,575V443.2" stroke="#b4b4b4" stroke-opacity="0.84" stroke-width="1.25"/><path d="M485.2,575V477.2" stroke="#b4b4b4" stroke-opacity="0.71" stroke-width="1.25"/><path d="M486.7,575V477.0" stroke="#b4b4b4" stroke-opacity="0.67" stroke-width="1.25"/><path d="M488.1,575V475.8" stroke="#b4b4b4" stroke-opacity="0.52" stroke-width="1.25"/><path d="M489.6,575V483.9" stroke="#b4b4b4" stroke-opacity="0.53" stroke-width="1.25"/><path d="M491.0,575V459.8" stroke="#b4b4b4" stroke-opacity="0.65" stroke-width="1.25"/><path d="M492.5,575V485.1" stroke="#b4b4b4" stroke-opacity="0.81" stroke-width="1.25"/><path d="M493.9,575V461.9" stroke="#b4b4b4" stroke-opacity="0.63" stroke-width="1.25"/><path d="M495.4,575V488.1" stroke="#b4b4b4" stroke-opacity="0.53" stroke-width="1.25"/><path d="M496.8,575V489.6" stroke="#b4b4b4" stroke-opacity="0.59" stroke-width="1.25"/><path d="M498.3,575V490.4" stroke="#b4b4b4" stroke-opacity="0.55" stroke-width="1.25"/><path d="M499.7,575V489.0" stroke="#b4b4b4" stroke-opacity="0.68" stroke-width="1.25"/><path d="M501.2,575V475.5" stroke="#b4b4b4" stroke-opacity="0.75" stroke-width="1.25"/><path d="M502.6,575V496.1" stroke="#b4b4b4" stroke-opacity="0.62" stroke-width="1.25"/><path d="M504.1,575V498.5" stroke="#b4b4b4" stroke-opacity="0.60" stroke-width="1.25"/><path d="M505.5,575V509.1" stroke="#b4b4b4" stroke-opacity="0.47" stroke-width="1.25"/><path d="M507.0,575V516.2" stroke="#b4b4b4" stroke-opacity="0.84" stroke-width="1.25"/><path d="M508.4,575V523.1" stroke="#b4b4b4" stroke-opacity="0.65" stroke-width="1.25"/><path d="M509.9,575V514.6" stroke="#b4b4b4" stroke-opacity="0.80" stroke-width="1.25"/><path d="M511.3,575V530.2" stroke="#b4b4b4" stroke-opacity="0.56" stroke-width="1.25"/><path d="M512.8,575V534.0" stroke="#b4b4b4" stroke-opacity="0.61" stroke-width="1.25"/><path d="M514.2,575V534.8" stroke="#b4b4b4" stroke-opacity="0.83" stroke-width="1.25"/><path d="M515.7,575V530.1" stroke="#b4b4b4" stroke-opacity="0.80" stroke-width="1.25"/><path d="M517.1,575V549.0" stroke="#b4b4b4" stroke-opacity="0.46" stroke-width="1.25"/><path d="M518.6,575V544.8" stroke="#b4b4b4" stroke-opacity="0.81" stroke-width="1.25"/><path d="M520.0,575V553.6" stroke="#b4b4b4" stroke-opacity="0.68" stroke-width="1.25"/><path d="M521.5,575V560.8" stroke="#b4b4b4" stroke-opacity="0.61" stroke-width="1.25"/><path d="M522.9,575V553.6" stroke="#b4b4b4" stroke-opacity="0.78" stroke-width="1.25"/><path d="M524.4,575V558.1" stroke="#b4b4b4" stroke-opacity="0.84" stroke-width="1.25"/><path d="M525.8,575V566.7" stroke="#b4b4b4" stroke-opacity="0.49" stroke-width="1.25"/><path d="M527.3,575V569.5" stroke="#b4b4b4" stroke-opacity="0.66" stroke-width="1.25"/><path d="M528.7,575V569.2" stroke="#b4b4b4" stroke-opacity="0.83" stroke-width="1.25"/><path d="M238.5,575V319" stroke="#b4b4b4" stroke-opacity="0.85" stroke-width="1.3"/><path d="M244,575V351" stroke="#b4b4b4" stroke-opacity="0.85" stroke-width="1.3"/><path d="M296.5,575V389" stroke="#b4b4b4" stroke-opacity="0.85" stroke-width="1.3"/><path d="M284.6,575V416" stroke="#b4b4b4" stroke-opacity="0.85" stroke-width="1.3"/><path d="M485.4,575V409" stroke="#b4b4b4" stroke-opacity="0.85" stroke-width="1.3"/><path d="M437,575V467" stroke="#b4b4b4" stroke-opacity="0.85" stroke-width="1.3"/><path d="M441,575V468" stroke="#b4b4b4" stroke-opacity="0.85" stroke-width="1.3"/></g>
<path d="M155,575 L155.0,576.1 L156.6,574.9 L158.2,575.1 L159.8,572.3 L161.4,572.3 L163.0,568.1 L164.6,572.6 L166.2,566.9 L167.8,569.4 L169.4,565.2 L171.0,560.6 L172.6,556.4 L174.2,553.3 L175.8,552.0 L177.4,548.4 L179.0,540.3 L180.6,535.6 L182.2,533.8 L183.8,529.2 L185.4,522.8 L187.0,516.7 L188.6,514.2 L190.2,504.8 L191.8,501.6 L193.4,497.5 L195.0,495.7 L196.6,488.5 L198.2,485.1 L199.8,477.2 L201.4,470.5 L202,575Z" fill="#b3b9ec" />
<g><path d="M156.0,575V572.9" stroke="#aab1ea" stroke-opacity="0.78" stroke-width="1.25"/><path d="M157.4,575V570.1" stroke="#aab1ea" stroke-opacity="0.52" stroke-width="1.25"/><path d="M158.9,575V572.3" stroke="#aab1ea" stroke-opacity="0.60" stroke-width="1.25"/><path d="M160.3,575V567.5" stroke="#aab1ea" stroke-opacity="0.57" stroke-width="1.25"/><path d="M161.8,575V569.1" stroke="#aab1ea" stroke-opacity="0.67" stroke-width="1.25"/><path d="M163.2,575V561.1" stroke="#aab1ea" stroke-opacity="0.49" stroke-width="1.25"/><path d="M164.7,575V569.7" stroke="#aab1ea" stroke-opacity="0.54" stroke-width="1.25"/><path d="M166.1,575V562.8" stroke="#aab1ea" stroke-opacity="0.67" stroke-width="1.25"/><path d="M167.6,575V563.6" stroke="#aab1ea" stroke-opacity="0.72" stroke-width="1.25"/><path d="M169.0,575V553.1" stroke="#aab1ea" stroke-opacity="0.60" stroke-width="1.25"/><path d="M170.5,575V558.7" stroke="#aab1ea" stroke-opacity="0.79" stroke-width="1.25"/><path d="M171.9,575V554.2" stroke="#aab1ea" stroke-opacity="0.73" stroke-width="1.25"/><path d="M173.4,575V552.0" stroke="#aab1ea" stroke-opacity="0.49" stroke-width="1.25"/><path d="M174.8,575V537.9" stroke="#aab1ea" stroke-opacity="0.52" stroke-width="1.25"/><path d="M176.3,575V530.0" stroke="#aab1ea" stroke-opacity="0.60" stroke-width="1.25"/><path d="M177.7,575V541.7" stroke="#aab1ea" stroke-opacity="0.49" stroke-width="1.25"/><path d="M179.2,575V532.8" stroke="#aab1ea" stroke-opacity="0.67" stroke-width="1.25"/><path d="M180.6,575V516.6" stroke="#aab1ea" stroke-opacity="0.46" stroke-width="1.25"/><path d="M182.1,575V524.6" stroke="#aab1ea" stroke-opacity="0.49" stroke-width="1.25"/><path d="M183.5,575V507.0" stroke="#aab1ea" stroke-opacity="0.46" stroke-width="1.25"/><path d="M185.0,575V523.2" stroke="#aab1ea" stroke-opacity="0.42" stroke-width="1.25"/><path d="M186.4,575V511.0" stroke="#aab1ea" stroke-opacity="0.76" stroke-width="1.25"/><path d="M187.9,575V495.4" stroke="#aab1ea" stroke-opacity="0.69" stroke-width="1.25"/><path d="M189.3,575V488.3" stroke="#aab1ea" stroke-opacity="0.77" stroke-width="1.25"/><path d="M190.8,575V498.5" stroke="#aab1ea" stroke-opacity="0.47" stroke-width="1.25"/><path d="M192.2,575V480.6" stroke="#aab1ea" stroke-opacity="0.70" stroke-width="1.25"/><path d="M193.7,575V495.6" stroke="#aab1ea" stroke-opacity="0.67" stroke-width="1.25"/><path d="M195.1,575V483.6" stroke="#aab1ea" stroke-opacity="0.55" stroke-width="1.25"/><path d="M196.6,575V480.1" stroke="#aab1ea" stroke-opacity="0.47" stroke-width="1.25"/><path d="M198.0,575V482.4" stroke="#aab1ea" stroke-opacity="0.51" stroke-width="1.25"/><path d="M199.5,575V471.4" stroke="#aab1ea" stroke-opacity="0.78" stroke-width="1.25"/><path d="M200.9,575V471.3" stroke="#aab1ea" stroke-opacity="0.79" stroke-width="1.25"/></g>
<path d="M77,228V577" stroke="#8c8c8c" stroke-width="2.6" fill="none"/>
<path d="M72,575H560" stroke="#8c8c8c" stroke-width="3" fill="none"/>
<path d="M72,277H77M72,427H77" stroke="#8a8a8a" stroke-width="1.6"/>
<path d="M77,574v5M202,574v5M381,574v5M560,574v5" stroke="#8a8a8a" stroke-width="1.6"/>
</g>
<g class="dj" fill="#1a1a1a" filter="url(#tblur)">
<text x="105" y="279" font-size="30" textLength="153" lengthAdjust="spacingAndGlyphs">Antarctica</text>
<text x="44" y="608.7" font-size="29" textLength="65" lengthAdjust="spacingAndGlyphs">-111</text>
<text x="180" y="608.7" font-size="29" textLength="46" lengthAdjust="spacingAndGlyphs">-90</text>
<text x="358" y="608.7" font-size="29" textLength="47" lengthAdjust="spacingAndGlyphs">-60</text>
<text x="538" y="608.7" font-size="29" textLength="46" lengthAdjust="spacingAndGlyphs">-30</text>
<text x="32" y="645.5" font-size="28.5" font-weight="bold" fill="#000" textLength="572" lengthAdjust="spacingAndGlyphs">Daily minimum temperature (°C)</text>
<text transform="translate(63,334) rotate(-90)" font-size="28.5" textLength="65" lengthAdjust="spacingAndGlyphs">0.06</text>
<text transform="translate(63,484) rotate(-90)" font-size="28.5" textLength="65" lengthAdjust="spacingAndGlyphs">0.03</text>
<text transform="translate(22.5,527) rotate(-90)" font-size="28" font-weight="bold" fill="#000" textLength="256" lengthAdjust="spacingAndGlyphs">Frequency (%)</text>
</g>
<!-- annotation -->
<path d="M883,599V668" stroke="#444" stroke-width="1.8"/>
<rect x="745" y="542.8" width="273.8" height="57.2" fill="#fff" stroke="#4a4a4a" stroke-width="1.9"/>
<text class="lib" x="756.5" y="584" font-size="35.6" fill="#38568f" textLength="247" lengthAdjust="spacingAndGlyphs" filter="url(#tblur)">-110.9 °C, 2016</text>
<!-- colorbar -->
<g>
<rect x="96" y="718" width="282" height="27" fill="#1b2232"/>
<rect x="378" y="718" width="283" height="27" fill="#2c4a7b"/>
<rect x="661" y="718" width="284" height="27" fill="#5d7abc"/>
<rect x="945" y="718" width="283" height="27" fill="#9aa9cf"/>
<rect x="1228" y="718" width="284" height="27" fill="#d9dade"/>
<rect x="96" y="718" width="1416" height="27" fill="none" stroke="#222" stroke-width="1.6"/>
<path d="M96,745v6M378,745v6M661,745v6M945,745v6M1228,745v6M1512,745v6" stroke="#333" stroke-width="1.4"/>
</g>
<g class="dj" fill="#111" font-size="42" filter="url(#tblur)">
<text x="25" y="794" textLength="141" lengthAdjust="spacingAndGlyphs">-110.9</text>
<text x="322" y="794" textLength="111" lengthAdjust="spacingAndGlyphs">-82.7</text>
<text x="606" y="794" textLength="111" lengthAdjust="spacingAndGlyphs">-54.5</text>
<text x="890" y="794" textLength="111" lengthAdjust="spacingAndGlyphs">-26.2</text>
<text x="1195" y="794" textLength="68" lengthAdjust="spacingAndGlyphs">2.0</text>
<text x="1465" y="794" textLength="96" lengthAdjust="spacingAndGlyphs">30.2</text>
<text x="371" y="843" font-size="41" font-weight="bold" fill="#000" textLength="867" lengthAdjust="spacingAndGlyphs">Global minimum temperatures (°C)</text>
</g>
<!-- title -->
<ellipse cx="-15" cy="27.5" rx="20" ry="38" fill="#000"/>
<g class="lib" fill="#2400ff" font-weight="bold" font-size="57.7">
<text x="17.5" y="57" textLength="316" lengthAdjust="spacingAndGlyphs">Température</text>
<text x="16.2" y="129.5" textLength="146.8" lengthAdjust="spacingAndGlyphs" word-spacing="7.5">du sol</text>
</g>
</svg>
</body>
</html>
